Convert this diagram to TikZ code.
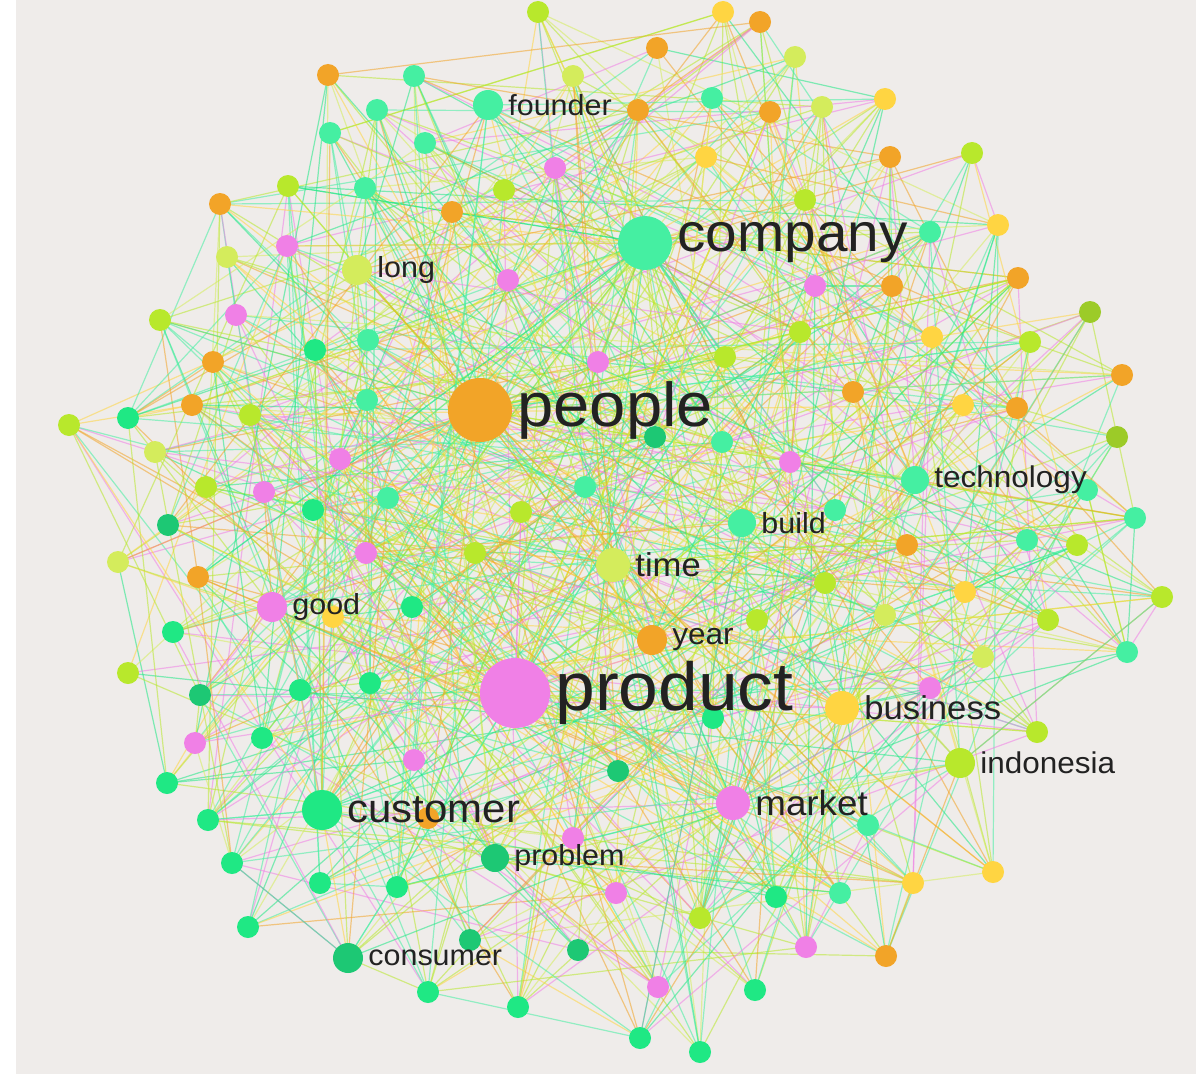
\documentclass[tikz,border=0pt]{standalone}
\usepackage{fontspec}
\setmainfont{Liberation Sans}
\begin{document}
\begin{tikzpicture}[x=1pt,y=-1pt]
\definecolor{bg}{HTML}{EFECEA}
\definecolor{mint}{HTML}{45EFA2}
\definecolor{grn}{HTML}{1FE884}
\definecolor{dg}{HTML}{1DC874}
\definecolor{lime}{HTML}{B8E82C}
\definecolor{pl}{HTML}{D4EC5C}
\definecolor{yel}{HTML}{FFD542}
\definecolor{org}{HTML}{F2A428}
\definecolor{pnk}{HTML}{F080E6}
\definecolor{olv}{HTML}{9CCB28}
\definecolor{txt}{HTML}{222222}
\tikzset{dot/.style={circle,inner sep=0pt,minimum size=22pt},
lab/.style={anchor=west,text=txt,inner sep=0pt,xshift=5pt,xscale=1.05},
edge/.style={line width=1.2pt,opacity=0.55}}
\fill[white] (0,0) rectangle (1196,1089);
\fill[bg] (16,0) rectangle (1196,1074);
\pgfmathsetseed{7}
\pgfmathdeclarerandomlist{ec}{{mint}{grn}{lime}{pl}{yel}{org}{pnk}{mint}{lime}}
% hubs
\coordinate (company) at (645,243);
\coordinate (people) at (480,410);
\coordinate (product) at (515,693);
\coordinate (customer) at (322,810);
\coordinate (market) at (733,803);
\coordinate (time) at (613,565);
\coordinate (business) at (842,708);
\coordinate (year) at (652,640);
\coordinate (build) at (742,523);
\coordinate (technology) at (915,480);
\coordinate (indonesia) at (960,763);
\coordinate (problem) at (495,858);
\coordinate (consumer) at (348,958);
\coordinate (good) at (272,607);
\coordinate (long) at (357,270);
\coordinate (founder) at (488,105);
\def\nodelist{538/12/lime,723/12/yel,760/22/org,657/48/org,328/75/org,414/76/mint,573/76/pl,795/57/pl,377/110/mint,638/110/org,712/98/mint,770/112/org,822/107/pl,885/99/yel,330/133/mint,425/143/mint,555/168/pnk,706/157/yel,890/157/org,972/153/lime,288/186/lime,365/188/mint,452/212/org,504/190/lime,220/204/org,805/200/lime,930/232/mint,998/225/yel,227/257/pl,287/246/pnk,508/280/pnk,815/286/pnk,892/286/org,1018/278/org,1090/312/olv,160/320/lime,236/315/pnk,368/340/mint,315/350/grn,598/362/pnk,725/357/lime,800/332/lime,932/337/yel,1030/342/lime,213/362/org,1122/375/org,69/425/lime,128/418/grn,192/405/org,250/415/lime,367/400/mint,655/437/dg,722/442/mint,853/392/org,963/405/yel,1017/408/org,1117/437/olv,155/452/pl,340/459/pnk,790/462/pnk,206/487/lime,264/492/pnk,388/498/mint,585/487/mint,1087/490/mint,168/525/dg,313/510/grn,521/512/lime,835/510/mint,1135/518/mint,118/562/pl,366/553/pnk,475/553/lime,907/545/org,1027/540/mint,1077/545/lime,198/577/org,825/583/lime,965/592/yel,1162/597/lime,333/617/yel,412/607/grn,757/620/lime,885/615/pl,1048/620/lime,173/632/grn,128/673/lime,983/657/pl,1127/652/mint,200/695/dg,300/690/grn,370/683/grn,713/718/grn,930/688/pnk,1037/732/lime,195/743/pnk,262/738/grn,414/760/pnk,618/771/dg,167/783/grn,428/818/org,208/820/grn,573/838/pnk,868/825/mint,232/863/grn,320/883/grn,397/887/grn,616/893/pnk,776/897/grn,840/893/mint,913/883/yel,993/872/yel,700/918/lime,248/927/grn,470/940/dg,578/950/dg,806/947/pnk,886/956/org,428/992/grn,518/1007/grn,658/987/pnk,755/990/grn,640/1038/grn,700/1052/grn}
\foreach \x/\y/\c [count=\i] in \nodelist {\coordinate (n\i) at (\x,\y); \xdef\N{\i}}
% edges among small nodes
\foreach \i in {1,...,\N}{
  \foreach \k in {1,...,4}{
    \pgfmathtruncatemacro\j{random(1,\N)}
    \pgfmathrandomitem{\cc}{ec}
    \draw[edge,\cc] (n\i) -- (n\j);
  }
}
% hub edges
\foreach \h/\m in {company/45,people/45,product/45,customer/25,market/22,time/18,business/18,year/15,build/14,technology/14,indonesia/14,problem/14,consumer/14,good/12,long/12,founder/12}{
  \foreach \k in {1,...,\m}{
    \pgfmathtruncatemacro\j{random(1,\N)}
    \pgfmathrandomitem{\cc}{ec}
    \draw[edge,\cc] (\h) -- (n\j);
  }
}
\foreach \x/\y/\c [count=\i] in \nodelist {\node[dot,fill=\c] at (n\i) {};}
% hub dots and labels
\node[dot,fill=mint,minimum size=54pt] (companyd) at (company) {};
\node[dot,fill=org,minimum size=64pt] (peopled) at (people) {};
\node[dot,fill=pnk,minimum size=70pt] (productd) at (product) {};
\node[dot,fill=grn,minimum size=40pt] (customerd) at (customer) {};
\node[dot,fill=pnk,minimum size=34pt] (marketd) at (market) {};
\node[dot,fill=pl,minimum size=34pt] (timed) at (time) {};
\node[dot,fill=yel,minimum size=34pt] (businessd) at (business) {};
\node[dot,fill=org,minimum size=30pt] (yeard) at (year) {};
\node[dot,fill=mint,minimum size=28pt] (buildd) at (build) {};
\node[dot,fill=mint,minimum size=28pt] (technologyd) at (technology) {};
\node[dot,fill=lime,minimum size=30pt] (indonesiad) at (indonesia) {};
\node[dot,fill=dg,minimum size=28pt] (problemd) at (problem) {};
\node[dot,fill=dg,minimum size=30pt] (consumerd) at (consumer) {};
\node[dot,fill=pnk,minimum size=30pt] (goodd) at (good) {};
\node[dot,fill=pl,minimum size=30pt] (longd) at (long) {};
\node[dot,fill=mint,minimum size=30pt] (founderd) at (founder) {};
\node[lab,font=\fontsize{54}{58}\selectfont] at (companyd.east) {company};
\node[lab,font=\fontsize{62}{66}\selectfont] at (peopled.east) {people};
\node[lab,font=\fontsize{68}{72}\selectfont] at (productd.east) {product};
\node[lab,font=\fontsize{40}{44}\selectfont] at (customerd.east) {customer};
\node[lab,font=\fontsize{35}{38}\selectfont] at (marketd.east) {market};
\node[lab,font=\fontsize{33}{36}\selectfont] at (timed.east) {time};
\node[lab,font=\fontsize{33}{36}\selectfont] at (businessd.east) {business};
\node[lab,font=\fontsize{30}{33}\selectfont] at (yeard.east) {year};
\node[lab,font=\fontsize{29}{32}\selectfont] at (buildd.east) {build};
\node[lab,font=\fontsize{30}{33}\selectfont] at (technologyd.east) {technology};
\node[lab,font=\fontsize{30}{33}\selectfont] at (indonesiad.east) {indonesia};
\node[lab,font=\fontsize{29}{32}\selectfont] at (problemd.east) {problem};
\node[lab,font=\fontsize{29}{32}\selectfont] at (consumerd.east) {consumer};
\node[lab,font=\fontsize{29}{32}\selectfont] at (goodd.east) {good};
\node[lab,font=\fontsize{29}{32}\selectfont] at (longd.east) {long};
\node[lab,font=\fontsize{29}{32}\selectfont] at (founderd.east) {founder};
\end{tikzpicture}
\end{document}
